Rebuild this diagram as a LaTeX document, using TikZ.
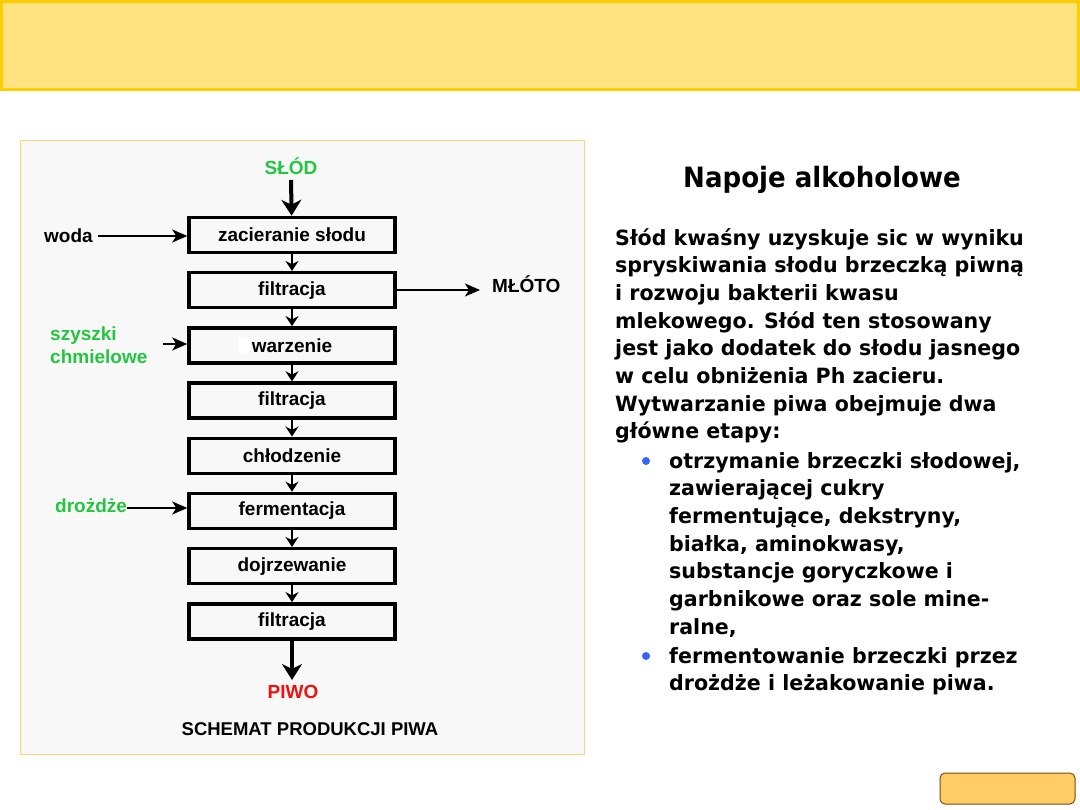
\documentclass[tikz,border=0pt]{standalone}
\usepackage{fontspec}
\setmainfont{Liberation Sans}
\newfontfamily\slidefont{DejaVu Sans}[FakeStretch=0.98]
\newfontfamily\titlefont{DejaVu Sans}[FakeStretch=0.93]
\usepackage{tikz}
\usetikzlibrary{arrows.meta}

\definecolor{bannerfill}{HTML}{FEE380}
\definecolor{bannerline}{HTML}{FFCC00}
\definecolor{panelfill}{HTML}{F9F8F8}
\definecolor{panelline}{HTML}{FFD27A}
\definecolor{inputgreen}{HTML}{22C640}
\definecolor{outputred}{HTML}{EE1111}
\definecolor{bulletblue}{HTML}{3366FF}
\definecolor{buttonfill}{HTML}{FFCC66}
\definecolor{buttonline}{HTML}{7A4A10}

\begin{document}
\begin{tikzpicture}[x=1pt, y=-1pt]
  % Define styles
  \tikzstyle{stage} = [rectangle, draw, line width=3.5pt, fill=panelfill, minimum width=206pt, minimum height=35pt, inner sep=0pt, font=\fontsize{19}{21}\selectfont\bfseries]
  \tikzstyle{feed} = [font=\fontsize{19}{23}\selectfont\bfseries, inner sep=0pt]
  \tikzstyle{link} = [line width=1.8pt, -{Stealth[length=10pt, width=13pt]}]
  \tikzstyle{side} = [line width=2pt, -{Stealth[length=15pt, width=13pt, inset=4pt]}]
  \tikzstyle{main} = [line width=4pt, -{Stealth[length=16pt, width=20pt, inset=5pt]}]
  \tikzstyle{body} = [font=\slidefont\fontsize{21}{27.7}\selectfont\bfseries, align=left, inner sep=0pt, anchor=north west]

  \useasboundingbox (0,0) rectangle (1080,810);
  \fill[white] (0,0) rectangle (1080,810);

  % Banner and panel
  \draw[bannerline, fill=bannerfill, line width=3pt] (1.5,1.5) rectangle (1078.5,90);
  \draw[panelline, fill=panelfill, line width=1pt] (20.5,140.5) rectangle (584.5,754);

  % Stages
  \node[stage] (zacier) at (292,235) {zacieranie słodu};
  \node[stage] (filtr1) at (292,290.2) {filtracja};
  \node[stage] (warz) at (292,345.4) {warzenie};
  \node[stage] (filtr2) at (292,400.6) {filtracja};
  \node[stage] (chlodz) at (292,455.8) {chłodzenie};
  \node[stage] (ferm) at (292,511) {fermentacja};
  \node[stage] (dojrz) at (292,566.2) {dojrzewanie};
  \node[stage] (filtr3) at (292,621.4) {filtracja};
  \fill[white] (239,337) rectangle (250,353);

  % Inputs and outputs
  \node[feed, text=inputgreen] (slod) at (291,166) {SŁÓD};
  \node[feed, text=outputred] (piwo) at (293,692) {PIWO};
  \node[feed, anchor=west] (woda) at (44,236) {woda};
  \node[feed, anchor=west] (mloto) at (492,284) {MŁÓTO};
  \node[feed, text=inputgreen, align=left, anchor=west] (chmiel) at (50,345) {szyszki\\chmielowe};
  \node[feed, text=inputgreen, anchor=west] (drozdze) at (55,506) {drożdże};
  \node[feed, font=\fontsize{18.5}{21}\selectfont\bfseries] (schemat) at (310,729) {SCHEMAT PRODUKCJI PIWA};
  \coordinate (mlotoend) at (480,290);

  % Connections - main flow
  \draw[main] (slod.south |- 0,180) -- (zacier);
  \draw[link] (zacier) -- (filtr1);
  \draw[link] (filtr1) -- (warz);
  \draw[link] (warz) -- (filtr2);
  \draw[link] (filtr2) -- (chlodz);
  \draw[link] (chlodz) -- (ferm);
  \draw[link] (ferm) -- (dojrz);
  \draw[link] (dojrz) -- (filtr3);
  \draw[main] (filtr3) -- (292,680);

  % Side streams
  \draw[side] (98,236) -- (zacier.west |- 0,236);
  \draw[side] (filtr1.east |- 0,290) -- (mlotoend);
  \draw[side] (163,344) -- (warz.west |- 0,344);
  \draw[side] (drozdze.east |- 0,508) -- (ferm.west |- 0,508);

  % Text column
  \node[font=\titlefont\fontsize{28}{30}\selectfont\bfseries] (title) at (822,180) {Napoje alkoholowe};
  \node[body] (para) at (615,228) {Słód kwaśny uzyskuje sic w wyniku\\
    spryskiwania słodu brzeczką piwną\\
    i rozwoju bakterii kwasu\\
    mlekowego. Słód ten stosowany\\
    jest jako dodatek do słodu jasnego\\
    w celu obniżenia Ph zacieru.\\
    Wytwarzanie piwa obejmuje dwa\\
    główne etapy:};
  \node[body] (item1) at (669,452) {otrzymanie brzeczki słodowej,\\
    zawierającej cukry\\
    fermentujące, dekstryny,\\
    białka, aminokwasy,\\
    substancje goryczkowe i\\
    garbnikowe oraz sole mine-\\
    ralne,};
  \node[body] (item2) at (669,647) {fermentowanie brzeczki przez\\
    drożdże i leżakowanie piwa.};
  \fill[bulletblue] (646,461) circle (4);
  \fill[bulletblue] (646,656) circle (4);

  % Button
  \draw[buttonline, fill=buttonfill, line width=1pt, rounded corners=5pt] (940,773) rectangle (1075,804);
\end{tikzpicture}
\end{document}
